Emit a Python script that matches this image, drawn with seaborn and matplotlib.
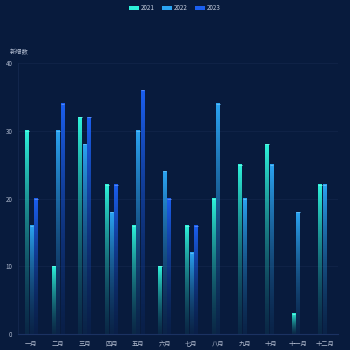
import numpy as np
import pandas as pd
import matplotlib
matplotlib.use("Agg")
import matplotlib.pyplot as plt
from matplotlib.colors import to_rgb
from matplotlib.patches import Patch
import seaborn as sns

months = ["一月", "二月", "三月", "四月", "五月", "六月",
          "七月", "八月", "九月", "十月", "十一月", "十二月"]
years = ["2021", "2022", "2023"]
v2021 = [30, 10, 32, 22, 16, 10, 16, 20, 25, 28, 3, 22]
v2022 = [16, 30, 28, 18, 30, 24, 12, 34, 20, 25, 18, 22]
v2023 = [20, 34, 32, 22, 36, 20, 16, np.nan, np.nan, np.nan, np.nan, np.nan]
y_ticks = [0, 10, 20, 30, 40]
y_label = "新增数"

colors = {"2021": "#2ef2da", "2022": "#2ba4f2", "2023": "#1b5ff0"}
bg = "#081b3d"
text_col = "#b0bace"

df = pd.DataFrame({
    "month": months * 3,
    "year": [y for y in years for _ in months],
    "value": v2021 + v2022 + v2023,
})

sns.set_theme(style="dark")
plt.rcParams["font.family"] = ["Noto Sans CJK SC", "DejaVu Sans"]

fig = plt.figure(figsize=(3.5, 3.5), dpi=100, facecolor=bg)
ax = fig.add_axes([18 / 350, 16 / 350, 320 / 350, 271 / 350])
ax.set_facecolor(bg)

sns.barplot(data=df, x="month", y="value", hue="year", order=months,
            hue_order=years, palette=colors, width=0.5, gap=0.22,
            ax=ax, legend=False, errorbar=None)

# Replace flat fills with a vertical fade from the top of each bar
bg_rgb = np.array(to_rgb(bg))
for cont, yr in zip(ax.containers, years):
    rgb = np.array(to_rgb(colors[yr]))
    for bar in cont:
        h = bar.get_height()
        if not np.isfinite(h) or h <= 0:
            continue
        x0, w = bar.get_x(), bar.get_width()
        n = 64
        t = np.linspace(0, 1, n)[:, None, None]  # 0 top -> 1 bottom
        img = np.zeros((n, 1, 4))
        img[..., :3] = rgb * (1 - 0.6 * t) + bg_rgb * 0.6 * t
        img[..., 3] = (1 - 0.85 * t[..., 0])
        ax.imshow(img, extent=[x0, x0 + w, 0, h], aspect="auto",
                  origin="upper", zorder=3, interpolation="bilinear")
        bar.set_alpha(0)
        # slightly brighter cap on top of the bar
        ax.plot([x0, x0 + w], [h, h], color=rgb * 0.75 + 0.25, lw=0.7,
                zorder=4, solid_capstyle="butt")

ax.set_xlim(-0.5, len(months) - 0.5)
ax.set_ylim(0, 40)
ax.set_yticks(y_ticks)
ax.set_yticklabels([str(v) for v in y_ticks])
ax.grid(axis="y", color="#112448", lw=0.6)
ax.grid(axis="x", visible=False)
ax.set_axisbelow(True)
for s in ["top", "right"]:
    ax.spines[s].set_visible(False)
ax.spines["left"].set_color("#12264c")
ax.spines["left"].set_linewidth(0.8)
ax.spines["bottom"].set_color("#1b3262")
ax.spines["bottom"].set_linewidth(0.8)
ax.tick_params(axis="both", colors=text_col, labelsize=4.5, length=0, pad=4)
ax.set_xlabel("")
ax.set_ylabel("")

fig.text(10 / 350, 1 - 52 / 350, y_label, color=text_col, fontsize=4.5,
         va="center", ha="left")

handles = [Patch(facecolor=colors[y], edgecolor="none") for y in years]
fig.legend(handles, years, loc="upper center", bbox_to_anchor=(0.5, 1.0),
           ncol=3, frameon=False, fontsize=4.5, labelcolor="#c8d0e0",
           handlelength=1.6, handleheight=0.6, handletextpad=0.3,
           columnspacing=1.2, borderaxespad=0.2)

fig.savefig("out.png", dpi=100, facecolor=bg)
